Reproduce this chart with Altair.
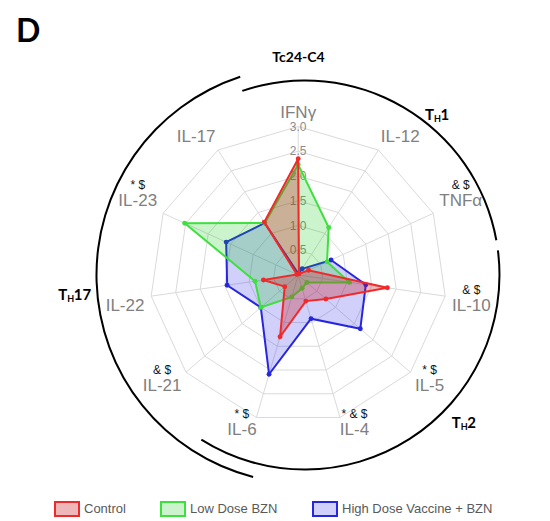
import math
import altair as alt
import pandas as pd

# ---------------- data ----------------
categories = ["IFNγ", "IL-12", "TNFα", "IL-10", "IL-5", "IL-4", "IL-6", "IL-21", "IL-22", "IL-23", "IL-17"]
control = [2.35, 0.03, 0.23, 1.82, 0.74, 0.55, 1.30, 0.36, 0.71, 0.03, 1.27]
low_dose = [2.23, 1.14, 0.64, 1.05, 0.23, 0.28, 0.46, 1.00, 0.88, 2.52, 1.25]
high_dose = [0.03, 0.15, 0.73, 1.38, 1.66, 0.92, 2.09, 1.00, 1.45, 1.60, 1.25]
significance = ["", "", "& $", "& $", "* $", "* & $", "* $", "& $", "", "* $", ""]
series_names = ["Control", "Low Dose BZN", "High Dose Vaccine + BZN"]
tick_values = [0.5, 1.0, 1.5, 2.0, 2.5, 3.0]

# ---------------- styles ----------------
stroke_colors = ["#f02a2a", "#3ee03e", "#2626e0"]
fill_colors = ["rgba(200,20,30,0.3)", "rgba(0,200,0,0.2)", "rgba(40,40,235,0.22)"]
N = len(categories)
K = 49.5  # px per unit
LABEL_FONT = "Liberation Sans"
BOLD_FONT = "Lato"
W_PX, H_PX = 515, 510
CX, CY = 290.2, 267.0

xs = alt.Scale(domain=[-CX / K, (W_PX - CX) / K], nice=False, zero=False)
ys = alt.Scale(domain=[-(H_PX - CY) / K, CY / K], nice=False, zero=False)


def X(f):
    return alt.X(f, type="quantitative", scale=xs, axis=None)


def Y(f):
    return alt.Y(f, type="quantitative", scale=ys, axis=None)


ANG = f"datum.idx * 2 * PI / {N}"

rows = []
for s, vals in zip(series_names, [control, low_dose, high_dose]):
    for i, (c, v) in enumerate(zip(categories, vals)):
        rows.append({"series": s, "category": c, "idx": i, "value": v})
df = pd.DataFrame(rows)

# grid rings
ring_df = pd.DataFrame([{"level": t, "idx": i} for t in tick_values for i in range(N)])
rings = alt.Chart(ring_df).transform_calculate(
    a=ANG, gx="datum.level * sin(datum.a)", gy="datum.level * cos(datum.a)"
).mark_line(interpolate="linear-closed", color="#dadada", strokeWidth=1).encode(
    x=X("gx"), y=Y("gy"), detail="level:N", order="idx:Q"
)

# spokes
spoke_df = pd.DataFrame({"idx": list(range(N))})
top = max(tick_values)
spokes = alt.Chart(spoke_df).transform_calculate(
    a=ANG, sx=f"{top} * sin(datum.a)", sy=f"{top} * cos(datum.a)", z="0"
).mark_rule(color="#dadada", strokeWidth=1).encode(
    x=X("z"), y=Y("z"), x2="sx:Q", y2="sy:Q"
)

# tick labels
tick_df = pd.DataFrame({"t": tick_values})
ticks = alt.Chart(tick_df).transform_calculate(z="0").mark_text(
    fontSize=12, color="#8c8c8c", font=LABEL_FONT, align="center", baseline="middle"
).encode(x=X("z"), y=Y("t"), text=alt.Text("t:Q", format=".1f"))

legend = alt.Legend(
    title=None, orient="none", legendX=46, legendY=488, direction="horizontal",
    symbolType="M-1,-0.58L1,-0.58L1,0.58L-1,0.58Z", symbolSize=576, symbolStrokeWidth=2,
    labelFontSize=13, labelColor="#595959", labelFont=LABEL_FONT, columnPadding=31,
    labelOffset=4, padding=0,
)
stroke_scale = alt.Scale(domain=series_names, range=stroke_colors)
fill_scale = alt.Scale(domain=series_names, range=fill_colors)
point_scale = alt.Scale(domain=series_names, range=stroke_colors)

base = alt.Chart(df).transform_calculate(
    a=ANG, px="datum.value * sin(datum.a)", py="datum.value * cos(datum.a)"
)

poly_layers = []
for s in [series_names[2], series_names[1], series_names[0]]:
    sub = base.transform_filter(alt.datum.series == s)
    poly = sub.mark_line(interpolate="linear-closed", strokeWidth=2).encode(
        x=X("px"), y=Y("py"), order="idx:Q",
        stroke=alt.Stroke("series:N", scale=stroke_scale, legend=legend),
        fill=alt.Fill("series:N", scale=fill_scale, legend=legend),
    )
    pts = sub.mark_circle(size=24, opacity=1).encode(
        x=X("px"), y=Y("py"),
        color=alt.Color("series:N", scale=point_scale, legend=None),
    )
    poly_layers += [poly, pts]

# category labels
W = {"I": 0.278, "L": 0.556, "-": 0.333, "T": 0.611, "N": 0.722, "F": 0.611, "α": 0.578, "γ": 0.5}


def text_width(s, size):
    return size * sum(W.get(ch, 0.556) for ch in s)


LABEL_SIZE = 17
label_df = pd.DataFrame({
    "category": categories,
    "idx": list(range(N)),
    "note": significance,
    "hw": [text_width(c, LABEL_SIZE) / 2 for c in categories],
})
label_base = alt.Chart(label_df).transform_calculate(
    a=ANG, s="sin(datum.a)", c="cos(datum.a)",
    side="datum.s > 0.1 ? 1 : (datum.s < -0.1 ? -1 : 0)",
    lx=f"3.2 * datum.s + datum.side * (datum.hw - 3) / {K}",
    ly=f"3.2 * datum.c + (datum.c >= 0 ? 1 : -1) * 9 * abs(datum.s) / {K} + (datum.side == 0 ? 4 / {K} : 0)",
    ny=f"datum.ly + 16 / {K}",
)
labels = label_base.mark_text(
    fontSize=LABEL_SIZE, color="#808080", font=LABEL_FONT, align="center", baseline="middle"
).encode(x=X("lx"), y=Y("ly"), text="category:N")
notes = label_base.mark_text(
    fontSize=12, color="#111111", font=LABEL_FONT, align="center", baseline="middle"
).encode(x=X("lx"), y=Y("ny"), text="note:N")

one = pd.DataFrame({"k": [0]})


def arc(r_out, r_in, a0, a1):
    return alt.Chart(one).mark_arc(
        radius=r_out, radius2=r_in, theta=math.radians(a0), theta2=math.radians(a1), color="black"
    ).encode(x=alt.X(datum=0.137, type="quantitative", scale=xs, axis=None),
             y=alt.Y(datum=0, type="quantitative", scale=ys, axis=None))


arcs = [arc(195.5, 193.5, 341.2, 439.7), arc(195.5, 193.5, 82.7, 212.2), arc(209.5, 207.5, 194.4, 341.9)]


def txt(text, xv, yv, size, dx=0, dy=0, align="left", baseline="alphabetic", weight="bold"):
    return alt.Chart(one).mark_text(
        text=text, fontSize=size, font=BOLD_FONT, fontWeight=weight, color="black",
        align=align, baseline=baseline, dx=dx, dy=dy
    ).encode(x=alt.X(datum=xv, type="quantitative", scale=xs, axis=None),
             y=alt.Y(datum=yv, type="quantitative", scale=ys, axis=None))


def th_label(xv, yv, tail):
    return [txt("T", xv, yv, 15), txt("H", xv, yv, 9, dx=9, dy=2), txt(tail, xv, yv, 15, dx=15.5)]


annot = [txt("D", -5.70, 4.707, 32), txt("Tc24-C4", 0.006, 4.384, 14, align="center", baseline="middle")]
annot += th_label(2.562, 3.131, "1") + th_label(3.101, -3.097, "2") + th_label(-4.846, -0.515, "17")

chart = alt.layer(
    rings, spokes, ticks, *poly_layers, labels, notes, *arcs, *annot
).properties(
    width=W_PX, height=H_PX, padding=0, autosize="none"
).configure_view(stroke=None)

chart.save("out.html", embed_options={"renderer": "svg", "actions": False})
